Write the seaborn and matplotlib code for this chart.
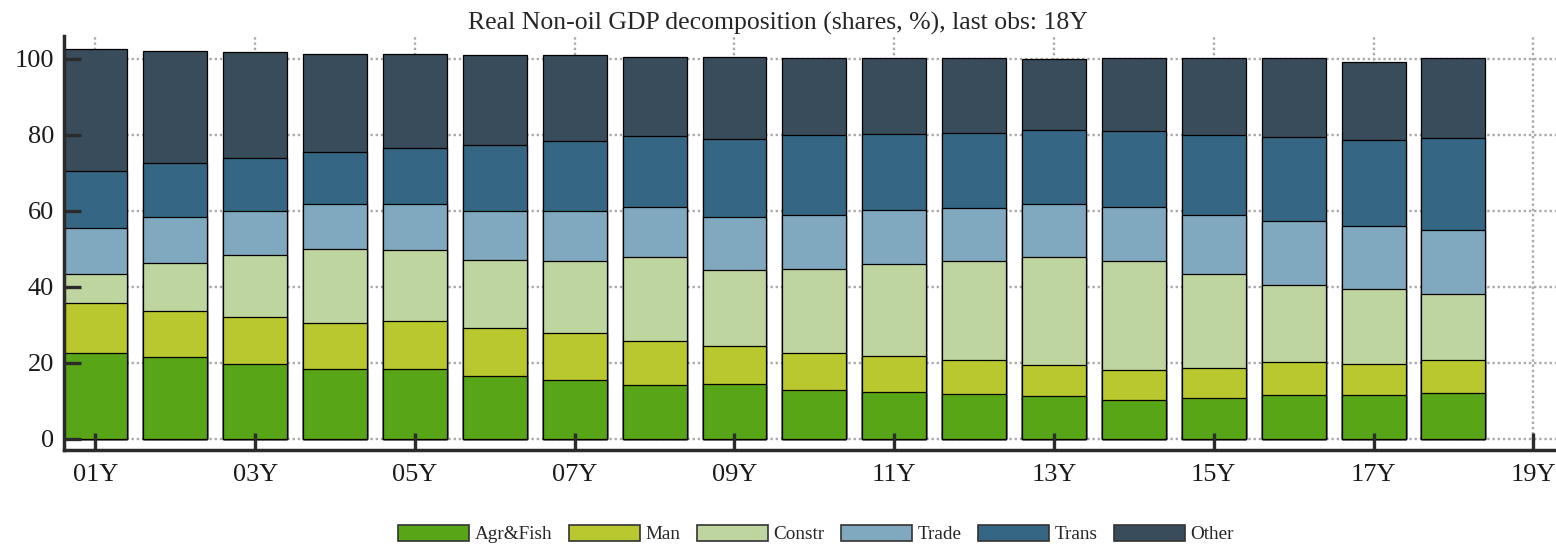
import matplotlib
matplotlib.use("Agg")
import pandas as pd
import matplotlib.pyplot as plt
from matplotlib.patches import Patch
import seaborn as sns

# Shares (%), 01Y..18Y
years = list(range(1, 19))
agr = [22.7, 21.5, 19.8, 18.5, 18.3, 16.5, 15.5, 14.1, 14.5, 12.9, 12.4, 11.9, 11.3, 10.2, 10.9, 11.7, 11.7, 12.2]
man = [13.0, 12.2, 12.4, 12.0, 12.8, 12.6, 12.5, 11.7, 9.9, 9.6, 9.4, 9.0, 8.2, 7.9, 7.9, 8.6, 8.1, 8.6]
constr = [7.6, 12.7, 16.2, 19.6, 18.7, 18.1, 18.8, 22.1, 20.0, 22.3, 24.3, 25.9, 28.4, 28.7, 24.7, 20.3, 19.6, 17.4]
trade = [12.2, 11.9, 11.6, 11.7, 12.1, 12.8, 13.2, 13.0, 14.0, 14.0, 14.1, 14.0, 13.9, 14.1, 15.5, 16.8, 16.5, 16.8]
trans = [14.9, 14.2, 14.0, 13.6, 14.7, 17.2, 18.4, 18.8, 20.4, 21.1, 19.9, 19.8, 19.4, 20.0, 21.0, 22.0, 22.7, 24.2]
other = [32.2, 29.6, 27.7, 25.9, 24.6, 23.9, 22.5, 20.9, 21.6, 20.4, 20.1, 19.5, 18.8, 19.2, 20.1, 20.7, 20.6, 20.9]

sectors = ["Agr&Fish", "Man", "Constr", "Trade", "Trans", "Other"]
colors = ["#58a618", "#b8c82e", "#bfd5a0", "#80a9c0", "#356684", "#394c5b"]

xtick_pos = list(range(1, 20, 2))
xtick_labels = ["%02dY" % y for y in xtick_pos]
ytick_pos = [0, 20, 40, 60, 80, 100]

df = pd.DataFrame({"year": years, "Agr&Fish": agr, "Man": man, "Constr": constr,
                   "Trade": trade, "Trans": trans, "Other": other})
cum = df[sectors].cumsum(axis=1)

sns.set_style("white")
plt.rcParams["font.family"] = ["Liberation Serif", "DejaVu Serif"]

fig, ax = plt.subplots(figsize=(15.56, 5.48), dpi=100)
fig.subplots_adjust(left=0.0411, right=1.0, bottom=0.1788, top=0.9343)

# stacked bars: draw cumulative totals from the top layer down
for s, c in reversed(list(zip(sectors, colors))):
    sns.barplot(x=df["year"], y=cum[s], color=c, native_scale=True, width=0.8,
                saturation=1, edgecolor="black", linewidth=0.9, errorbar=None,
                ax=ax, zorder=2)

ax.set_xlim(0.606, 19.284)
ax.set_ylim(-2.9, 106.0)
ax.set_xticks(xtick_pos)
ax.set_xticklabels(xtick_labels)
ax.set_yticks(ytick_pos)
ax.set_xlabel("")
ax.set_ylabel("")

# dotted grid behind the bars, ticks stay on top
ax.grid(False)
ax.set_axisbelow(False)
grid_kw = dict(color="#aaaaaa", linestyle=(0, (1, 1.2)), linewidth=1.7, zorder=0.5)
for y in ytick_pos:
    ax.axhline(y, **grid_kw)
for x in xtick_pos:
    ax.axvline(x, **grid_kw)

for side in ["top", "right"]:
    ax.spines[side].set_visible(False)
for side in ["left", "bottom"]:
    ax.spines[side].set_color("#2b2b2b")
    ax.spines[side].set_linewidth(2.5)

ax.tick_params(axis="both", direction="in", length=12, width=2.4, color="#2b2b2b",
               labelsize=19, labelcolor="#1a1a1a", left=True, bottom=True)
ax.tick_params(axis="y", pad=7)
ax.tick_params(axis="x", pad=10)

fig.suptitle("Real Non-oil GDP decomposition (shares, %), last obs: 18Y",
             x=0.5, y=0.957, va="center", fontsize=18.5)

handles = [Patch(facecolor=c, edgecolor="#333333", linewidth=1.2) for c in colors]
ax.legend(handles, sectors, loc="center", bbox_to_anchor=(0.504, -0.203), ncol=6,
          frameon=False, fontsize=13.8, handlelength=3.7, handleheight=0.95,
          handletextpad=0.3, columnspacing=0.85)

fig.savefig("out.png", dpi=100)
